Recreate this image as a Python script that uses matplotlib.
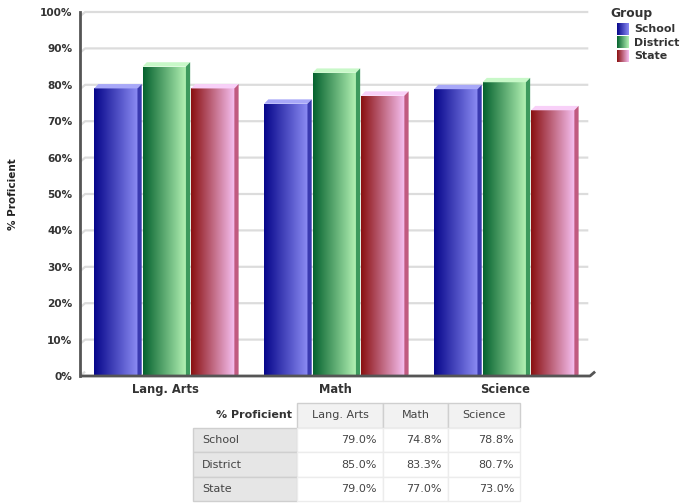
import numpy as np
import matplotlib
matplotlib.use("Agg")
import matplotlib.pyplot as plt
from matplotlib.patches import Rectangle, Polygon
from matplotlib.colors import LinearSegmentedColormap

plt.rcParams['font.family'] = ['DejaVu Sans']

categories = ['Lang. Arts', 'Math', 'Science']
groups = ['School', 'District', 'State']
school = [79.0, 74.8, 78.8]
district = [85.0, 83.3, 80.7]
state = [79.0, 77.0, 73.0]
series = [school, district, state]
yticks = [0, 10, 20, 30, 40, 50, 60, 70, 80, 90, 100]
ytick_labels = ['0%', '10%', '20%', '30%', '40%', '50%', '60%', '70%', '80%', '90%', '100%']

grad_colors = [('#06068a', '#8c8cf4'), ('#05622e', '#b6f4b6'), ('#8a1010', '#f6c0f2')]
top_colors = ['#a8a8f8', '#c8f8c8', '#f8d0f8']
side_colors = ['#3a3ab0', '#3d9a5e', '#c05a80']
txt = '#333333'

fig = plt.figure(figsize=(6.82, 5.04), dpi=100)
W, H = 682, 504
ax = fig.add_axes([80 / W, 1 - 376 / H, (590 - 80) / W, (376 - 12) / H])
ax.set_xlim(-0.5, 2.5)
ax.set_ylim(0, 100)

# gridlines with slanted 3D wall start
gdx, gdy = 0.03, 1.2
for y in yticks:
    xs = [-0.5, -0.5 + gdx, 2.49]
    ys = [y - gdy, y, y]
    if y == 0:
        xs, ys = [-0.5, -0.5 + gdx], [0, gdy]
    ax.plot(xs, ys, color='#dcdcdc', lw=1.6, zorder=0, solid_capstyle='butt', clip_on=False)

bw = 0.255
offsets = [-0.285, 0.0, 0.285]
dx, dy = 0.025, 1.2
grad = np.linspace(0, 1, 256).reshape(1, -1)
for gi, vals in enumerate(series):
    cmap = LinearSegmentedColormap.from_list('g%d' % gi, grad_colors[gi])
    for ci, v in enumerate(vals):
        x0 = ci + offsets[gi] - bw / 2 - dx / 2 + 0.008
        x1 = x0 + bw
        im = ax.imshow(grad, extent=[x0, x1, 0, v], aspect='auto', cmap=cmap,
                       zorder=2, interpolation='bilinear')
        rect = Rectangle((x0, 0), bw, v, transform=ax.transData)
        im.set_clip_path(rect)
        ax.add_patch(Polygon([[x0, v], [x0 + dx, v + dy], [x1 + dx, v + dy], [x1, v]],
                             closed=True, facecolor=top_colors[gi], edgecolor='none', zorder=3))
        ax.add_patch(Polygon([[x1, 0], [x1, v], [x1 + dx, v + dy], [x1 + dx, dy * 0.3]],
                             closed=True, facecolor=side_colors[gi], edgecolor='none', zorder=3))

ax.set_yticks(yticks)
ax.set_yticklabels(ytick_labels, fontsize=7.6, fontweight='bold', color=txt)
ax.set_xticks(range(len(categories)))
ax.set_xticklabels(categories, fontsize=8.3, fontweight='bold', color=txt)
ax.tick_params(axis='y', length=0, pad=5.5)
ax.tick_params(axis='x', length=0, pad=5)
for s in ['top', 'right', 'bottom']:
    ax.spines[s].set_visible(False)
ax.spines['left'].set_color('#555555')
ax.spines['left'].set_linewidth(2)
# bottom axis with 3D slant at the right end
ax.plot([-0.5, 2.5, 2.5 + 0.03], [0, 0, 1.2], color='#555555', lw=2, clip_on=False,
        zorder=5, solid_capstyle='butt')
ax.set_ylabel('% Proficient', fontsize=7.5, fontweight='bold', color='#222222')
ax.yaxis.set_label_coords(-(80 - 18) / 510, 0.5)

# Legend
lax = fig.add_axes([0, 0, 1, 1], facecolor='none')
lax.set_xlim(0, W)
lax.set_ylim(H, 0)
lax.axis('off')
lax.text(610, 13, 'Group', fontsize=8.8, fontweight='bold', color=txt, va='center', ha='left')
for gi, g in enumerate(groups):
    yc = 29 + gi * 13.5
    cmap = LinearSegmentedColormap.from_list('l%d' % gi, grad_colors[gi])
    lax.imshow(grad, extent=[617, 629, yc + 6, yc - 6], aspect='auto', cmap=cmap, zorder=2)
    lax.text(634, yc, g, fontsize=7.9, fontweight='bold', color=txt, va='center', ha='left')

# Table
col_edges = [193, 297, 383, 448, 520]
row_edges = [403, 428, 452, 477, 501]
header = ['% Proficient'] + categories
fs = 8
for j in range(4):
    x0, x1 = col_edges[j], col_edges[j + 1]
    y0, y1 = row_edges[0], row_edges[1]
    if j == 0:
        lax.text(x1 - 5, (y0 + y1) / 2, header[j], fontsize=fs, fontweight='bold',
                 color=txt, ha='right', va='center')
    else:
        lax.add_patch(Rectangle((x0, y0), x1 - x0, y1 - y0, facecolor='#f2f2f2',
                                edgecolor='#cfcfcf', lw=1))
        lax.text((x0 + x1) / 2, (y0 + y1) / 2, header[j], fontsize=fs, color='#444444',
                 ha='center', va='center')
for i, g in enumerate(groups):
    y0, y1 = row_edges[i + 1], row_edges[i + 2]
    lax.add_patch(Rectangle((col_edges[0], y0), col_edges[1] - col_edges[0], y1 - y0,
                            facecolor='#e6e6e6', edgecolor='#cfcfcf', lw=1))
    lax.text(col_edges[0] + 9, (y0 + y1) / 2, g, fontsize=fs, color='#444444',
             ha='left', va='center')
    for j in range(3):
        x0, x1 = col_edges[j + 1], col_edges[j + 2]
        lax.add_patch(Rectangle((x0, y0), x1 - x0, y1 - y0, facecolor='white',
                                edgecolor='#ececec', lw=1))
        lax.text(x1 - 6, (y0 + y1) / 2, '%.1f%%' % series[i][j], fontsize=fs,
                 color='#444444', ha='right', va='center')

fig.savefig('out.png', dpi=100)
